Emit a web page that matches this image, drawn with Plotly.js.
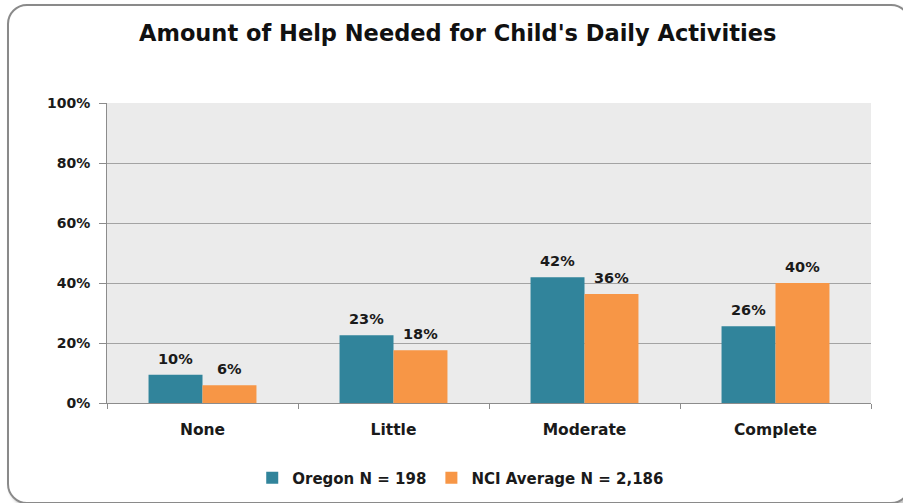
<!DOCTYPE html>
<html>
<head>
<meta charset="utf-8">
<script src="https://cdn.plot.ly/plotly-3.0.1.min.js"></script>
<style>
html,body{margin:0;padding:0;background:#fff;width:903px;height:503px;overflow:hidden;}
#chart{position:absolute;left:0;top:0;width:903px;height:503px;}
#frame{position:absolute;left:7px;top:4px;width:900px;height:496px;border:2px solid #8a8a8a;border-radius:20px;box-shadow:2px 2px 3px rgba(0,0,0,0.25);pointer-events:none;}
</style>
</head>
<body>
<div id="chart"></div>
<div id="frame"></div>
<script>
const categories = ["None", "Little", "Moderate", "Complete"];
const oregonValues = [9.4, 22.6, 41.9, 25.6];
const oregonLabels = ["10%", "23%", "42%", "26%"];
const nciValues = [5.9, 17.6, 36.3, 40.0];
const nciLabels = ["6%", "18%", "36%", "40%"];
const yTickVals = [0, 20, 40, 60, 80, 100];
const yTickText = ["0%", "20%", "40%", "60%", "80%", "100%"];

const font = "'DejaVu Sans', Verdana, sans-serif";
const bargap = 0.435;
const halfBar = (1 - bargap) / 4; // offset of each bar's centre from category centre

const traces = [
  {
    type: "bar", name: "Oregon N = 198", x: categories, y: oregonValues,
    marker: {color: "#31849b"}, hoverinfo: "none"
  },
  {
    type: "bar", name: "NCI Average N = 2,186", x: categories, y: nciValues,
    marker: {color: "#f79646"}, hoverinfo: "none"
  }
];

const labelFont = {family: font, size: 14.5, color: "#1a1a1a", weight: "bold"};
const annotations = [];
categories.forEach((c, i) => {
  annotations.push({x: i - halfBar, y: oregonValues[i], xref: "x", yref: "y", text: oregonLabels[i],
    showarrow: false, yanchor: "bottom", yshift: 6, font: labelFont});
  annotations.push({x: i + halfBar, y: nciValues[i], xref: "x", yref: "y", text: nciLabels[i],
    showarrow: false, yanchor: "bottom", yshift: 6, font: labelFont});
});

const layout = {
  width: 903, height: 503,
  margin: {l: 107, r: 32, t: 103, b: 100, autoexpand: false},
  paper_bgcolor: "rgba(0,0,0,0)",
  plot_bgcolor: "#ebebeb",
  barmode: "group", bargap: bargap, bargroupgap: 0,
  showlegend: true,
  font: {family: font, color: "#1a1a1a"},
  title: {
    text: "Amount of Help Needed for Child's Daily Activities",
    font: {family: font, size: 22.5, color: "#111", weight: "bold"},
    x: 0.459, xanchor: "center", xref: "paper", y: 0.935, yanchor: "middle", yref: "container"
  },
  xaxis: {
    type: "category", tickson: "boundaries", ticks: "outside", ticklen: 5,
    tickcolor: "#8c8c8c", showline: true, linecolor: "#8c8c8c", linewidth: 1,
    showgrid: false, zeroline: false, ticklabelstandoff: 12, automargin: false,
    tickfont: {family: font, size: 15.5, color: "#1a1a1a", weight: "bold"}
  },
  yaxis: {
    range: [0, 100], tickvals: yTickVals, ticktext: yTickText,
    ticks: "outside", ticklen: 7, tickcolor: "#8c8c8c", automargin: false,
    showline: true, linecolor: "#8c8c8c", linewidth: 1, ticklabelstandoff: 6,
    showgrid: true, gridcolor: "#a3a3a3", gridwidth: 1, zeroline: false,
    tickfont: {family: font, size: 14, color: "#1a1a1a", weight: "bold"}
  },
  legend: {
    orientation: "h", x: 0.463, xanchor: "center", y: -0.25, yanchor: "middle",
    font: {family: font, size: 15, color: "#1a1a1a", weight: "bold"},
    itemwidth: 30, traceorder: "normal"
  },
  annotations: annotations
};

Plotly.newPlot("chart", traces, layout, {staticPlot: true, displayModeBar: false});
</script>
</body>
</html>
